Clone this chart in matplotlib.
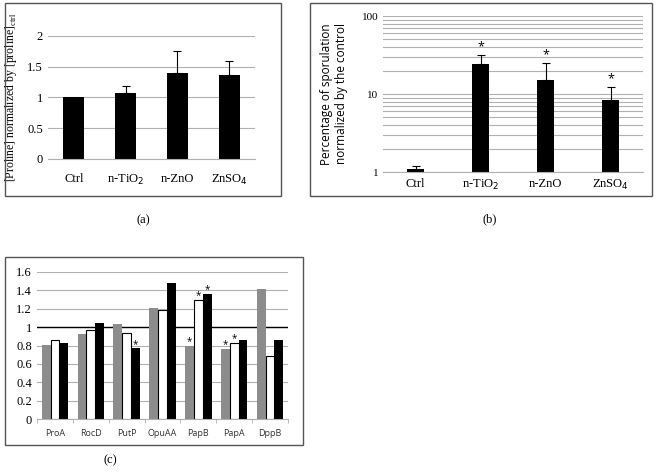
import numpy as np
import matplotlib.pyplot as plt
from matplotlib.patches import Rectangle
from matplotlib.ticker import FixedLocator, NullFormatter

W, H = 660, 476

# panel (a): proline
a_labels = ['Ctrl', 'n-TiO$_2$', 'n-ZnO', 'ZnSO$_4$']
a_vals = [1.0, 1.07, 1.40, 1.37]
a_err_top = [1.0, 1.18, 1.75, 1.60]

# panel (b): sporulation (log scale)
b_labels = ['Ctrl', 'n-TiO$_2$', 'n-ZnO', 'ZnSO$_4$']
b_vals = [1.09, 24.5, 15.3, 8.5]
b_err_top = [1.19, 31.8, 25.2, 12.3]
b_star = [False, True, True, True]

# panel (c): gene expression
c_genes = ['ProA', 'RocD', 'PutP', 'OpuAA', 'PapB', 'PapA', 'DppB']
c_gray = [0.81, 0.92, 1.03, 1.21, 0.80, 0.76, 1.41]
c_white = [0.86, 0.97, 0.94, 1.19, 1.30, 0.83, 0.69]
c_black = [0.83, 1.05, 0.77, 1.48, 1.36, 0.865, 0.865]
c_star_gray = [False, False, False, False, True, True, False]
c_star_white = [False, False, False, False, True, True, False]
c_star_black = [False, False, True, False, True, False, False]

serif = ['Liberation Serif', 'DejaVu Serif']
sans = ['Open Sans', 'DejaVu Sans']
grid_c = '#b0b0b0'

fig = plt.figure(figsize=(W / 100, H / 100), dpi=100)


def px_axes(x0, y0, x1, y1):
    return fig.add_axes([x0 / W, 1 - y1 / H, (x1 - x0) / W, (y1 - y0) / H])


def px_box(x0, y0, x1, y1):
    fig.patches.append(Rectangle((x0 / W, 1 - y1 / H), (x1 - x0) / W, (y1 - y0) / H,
                                 transform=fig.transFigure, fill=False,
                                 edgecolor='#555555', linewidth=1.0))


def clean(ax):
    for s in ['top', 'right', 'left']:
        ax.spines[s].set_visible(False)
    ax.spines['bottom'].set_color(grid_c)
    ax.tick_params(axis='y', length=0)
    ax.set_axisbelow(True)


# ---- (a)
px_box(5, 3, 281, 196)
ax = px_axes(48, 36, 255, 159)
x = np.arange(len(a_labels))
ax.bar(x, a_vals, width=0.41, color='black', zorder=2)
for i in range(1, len(x)):
    ax.errorbar(x[i], a_vals[i], yerr=[[0], [a_err_top[i] - a_vals[i]]],
                fmt='none', ecolor='black', elinewidth=0.8, capsize=3, capthick=0.8, zorder=3)
ax.set_ylim(0, 2)
ax.set_xlim(-0.5, 3.5)
ax.set_yticks([0, 0.5, 1, 1.5, 2])
ax.set_yticklabels(['0', '0.5', '1', '1.5', '2'], family=serif, fontsize=9)
ax.yaxis.grid(True, color=grid_c, linewidth=0.8)
ax.set_xticks(x)
ax.set_xticklabels(a_labels, family=serif, fontsize=9)
ax.tick_params(axis='x', length=0, pad=10)
clean(ax)
ax.set_ylabel('[Proline] normalized by [proline]$_{\\mathregular{ctrl}}$',
              family=serif, fontsize=8.5, labelpad=6)
fig.text(143 / W, 1 - 220 / H, '(a)', family=serif, fontsize=9, ha='center', va='center')

# ---- (b)
px_box(310, 3, 652, 196)
ax = px_axes(383, 16, 643, 172)
x = np.arange(len(b_labels))
ax.bar(x, b_vals, width=0.27, color='black', zorder=2)
for i in range(len(x)):
    ax.errorbar(x[i], b_vals[i], yerr=[[0], [b_err_top[i] - b_vals[i]]],
                fmt='none', ecolor='black', elinewidth=0.8, capsize=3, capthick=0.8, zorder=3)
    if b_star[i]:
        ax.annotate('*', (x[i], b_err_top[i]), xytext=(0, 1), textcoords='offset points',
                    ha='center', va='bottom', fontsize=9, family=sans)
ax.set_yscale('log')
ax.set_ylim(1, 100)
ax.set_xlim(-0.5, 3.5)
ax.set_yticks([1, 10, 100])
ax.set_yticklabels(['1', '10', '100'], family=serif, fontsize=8)
minors = [m * d for d in (1, 10) for m in range(2, 10)]
ax.yaxis.set_minor_locator(FixedLocator(minors))
ax.yaxis.set_minor_formatter(NullFormatter())
ax.yaxis.grid(True, which='both', color=grid_c, linewidth=0.8)
ax.tick_params(axis='y', which='both', length=0)
ax.set_xticks(x)
ax.set_xticklabels(b_labels, family=serif, fontsize=9)
ax.tick_params(axis='x', length=0, pad=4)
clean(ax)
ax.set_ylabel('Percentage of sporulation\nnormalized by the control',
              family=sans, fontsize=8.5, labelpad=10)
fig.text(490 / W, 1 - 219 / H, '(b)', family=serif, fontsize=9, ha='center', va='center')

# ---- (c)
px_box(5, 257, 303, 445)
ax = px_axes(37, 272, 288, 419)
x = np.arange(len(c_genes))
bw = 0.245
ax.bar(x - bw, c_gray, width=bw, color='#8c8c8c', zorder=2)
ax.bar(x, c_white, width=bw, color='white', edgecolor='black', linewidth=0.8, zorder=2)
ax.bar(x + bw, c_black, width=bw, color='black', zorder=2)
for off, vals, stars in [(-bw, c_gray, c_star_gray), (0, c_white, c_star_white),
                         (bw, c_black, c_star_black)]:
    for i in range(len(x)):
        if stars[i]:
            ax.annotate('*', (x[i] + off, vals[i]), xytext=(0, -1), textcoords='offset points',
                        ha='center', va='bottom', fontsize=7, family=sans)
ax.axhline(1, color='black', linewidth=1.0, zorder=1)
ax.set_ylim(0, 1.6)
ax.set_xlim(-0.5, 6.5)
yt = [0, 0.2, 0.4, 0.6, 0.8, 1, 1.2, 1.4, 1.6]
ax.set_yticks(yt)
ax.set_yticklabels(['0', '0.2', '0.4', '0.6', '0.8', '1', '1.2', '1.4', '1.6'],
                   family=serif, fontsize=9)
ax.yaxis.grid(True, color=grid_c, linewidth=0.8)
ax.set_xticks(x)
ax.set_xticklabels(c_genes, family=sans, fontsize=6.5, color='#333333')
ax.set_xticks(np.arange(-0.5, 7, 1), minor=True)
ax.tick_params(axis='x', which='major', length=0, pad=7)
ax.tick_params(axis='x', which='minor', length=3, color=grid_c, direction='out')
clean(ax)
fig.text(110 / W, 1 - 460 / H, '(c)', family=serif, fontsize=9, ha='center', va='center')

fig.savefig('out.png', dpi=100)
